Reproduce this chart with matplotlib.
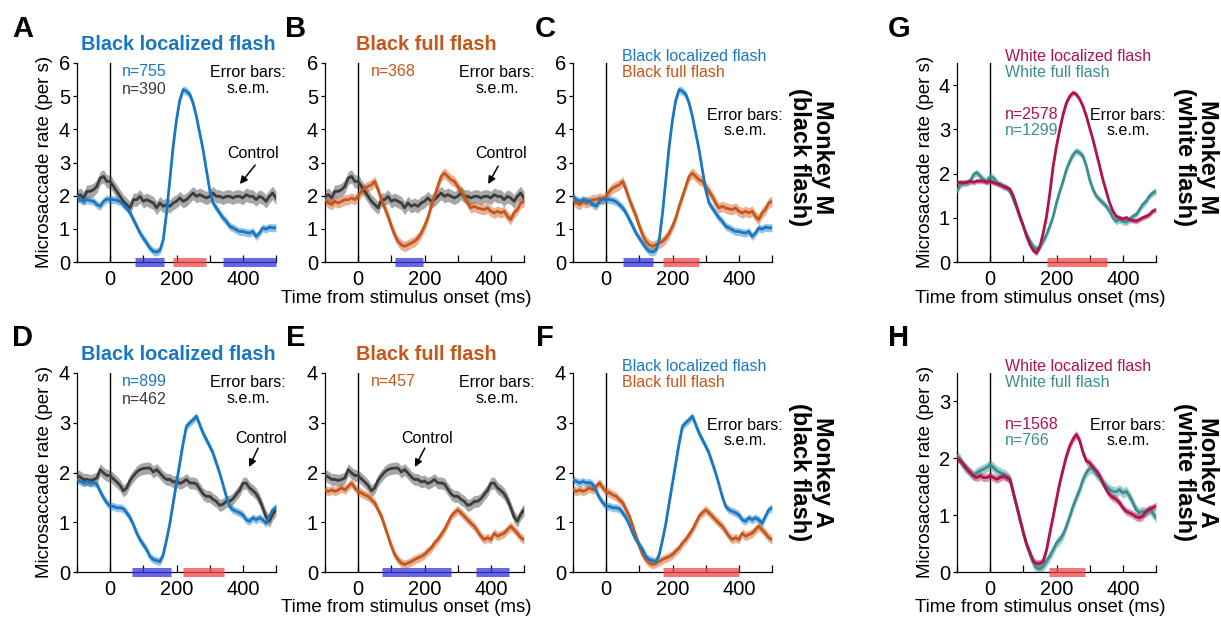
import matplotlib
matplotlib.use("Agg")
import matplotlib.pyplot as plt
import numpy as np

plt.rcParams['font.family'] = ['Liberation Sans', 'DejaVu Sans']

W, H = 1221, 620

# time axis (ms), sampled every 10 ms
t = np.arange(-100, 501, 10)

# Monkey M, black flash
m_black_loc = [1.98, 1.88, 1.83, 1.88, 1.85, 1.83, 1.73, 1.68, 1.83, 1.90, 1.88,
               1.88, 1.86, 1.82, 1.73, 1.63, 1.48, 1.28, 1.08, 0.87, 0.72,
               0.57, 0.42, 0.32, 0.30, 0.35, 0.67, 1.48, 2.48, 3.49, 4.29,
               4.89, 5.20, 5.15, 5.05, 4.79, 4.39, 3.89, 3.39, 2.78, 2.18,
               1.78, 1.63, 1.48, 1.33, 1.23, 1.08, 1.03, 0.97, 0.92, 0.92,
               0.89, 0.87, 0.92, 0.77, 0.87, 1.03, 0.99, 1.05, 1.03, 1.03]
m_black_full = [1.88, 1.78, 1.73, 1.83, 1.78, 1.83, 1.88, 1.88, 1.93, 1.88, 1.98,
                2.13, 2.23, 2.28, 2.33, 2.43, 2.18, 1.88, 1.63, 1.38, 1.08,
                0.82, 0.62, 0.52, 0.47, 0.52, 0.57, 0.62, 0.72, 0.87, 1.08,
                1.33, 1.68, 1.98, 2.28, 2.58, 2.68, 2.58, 2.48, 2.43, 2.28,
                2.13, 1.98, 1.78, 1.63, 1.68, 1.63, 1.60, 1.58, 1.63, 1.53,
                1.48, 1.53, 1.48, 1.53, 1.38, 1.28, 1.48, 1.58, 1.78, 1.83]
m_ctrl = [1.98, 2.03, 1.93, 2.13, 2.13, 2.18, 2.28, 2.53, 2.58, 2.43, 2.43,
          2.28, 2.13, 1.98, 1.83, 1.73, 1.63, 1.88, 1.88, 1.98, 1.83,
          1.88, 1.83, 1.78, 1.63, 1.78, 1.68, 1.73, 1.68, 1.78, 1.83,
          1.93, 1.83, 1.88, 1.98, 2.08, 1.98, 2.03, 1.98, 1.93, 1.98,
          2.08, 1.98, 1.98, 1.93, 1.98, 1.98, 1.93, 1.98, 1.98, 1.93,
          2.03, 1.98, 1.98, 1.88, 1.98, 1.93, 1.83, 1.98, 2.08, 1.93]

# Monkey A, black flash
a_black_loc = [1.86, 1.82, 1.79, 1.82, 1.79, 1.80, 1.76, 1.62, 1.49, 1.39, 1.32,
               1.32, 1.29, 1.29, 1.27, 1.19, 1.09, 0.95, 0.78, 0.65, 0.55,
               0.45, 0.31, 0.25, 0.23, 0.21, 0.35, 0.65, 0.98, 1.39, 1.79,
               2.19, 2.59, 2.93, 3.00, 3.06, 3.13, 2.96, 2.79, 2.66, 2.53,
               2.39, 2.19, 1.99, 1.76, 1.52, 1.32, 1.25, 1.22, 1.19, 1.15,
               1.05, 1.02, 1.09, 1.05, 1.09, 1.05, 0.98, 1.12, 1.25, 1.29]
a_black_full = [1.65, 1.62, 1.65, 1.62, 1.65, 1.69, 1.65, 1.72, 1.79, 1.69, 1.62,
                1.59, 1.55, 1.52, 1.45, 1.39, 1.25, 1.12, 0.92, 0.72, 0.52,
                0.35, 0.25, 0.18, 0.15, 0.18, 0.21, 0.25, 0.28, 0.31, 0.35,
                0.42, 0.48, 0.58, 0.65, 0.75, 0.85, 0.98, 1.12, 1.19, 1.25,
                1.19, 1.12, 1.05, 0.98, 0.92, 0.82, 0.72, 0.65, 0.69, 0.65,
                0.78, 0.72, 0.75, 0.78, 0.85, 0.92, 0.85, 0.78, 0.69, 0.65]
a_ctrl = [1.94, 1.91, 1.86, 1.86, 1.84, 1.86, 1.89, 2.06, 1.99, 1.94, 1.94,
          1.87, 1.81, 1.74, 1.63, 1.69, 1.84, 1.93, 2.01, 2.06, 2.08,
          2.09, 2.09, 2.01, 2.06, 1.99, 1.91, 1.86, 1.86, 1.81, 1.83,
          1.78, 1.81, 1.86, 1.79, 1.79, 1.77, 1.67, 1.57, 1.52, 1.52,
          1.46, 1.42, 1.34, 1.36, 1.42, 1.42, 1.47, 1.56, 1.64, 1.78,
          1.79, 1.69, 1.64, 1.57, 1.46, 1.29, 1.11, 1.02, 1.16, 1.25]

# white flash
m_white_loc = [1.79, 1.80, 1.79, 1.80, 1.83, 1.80, 1.83, 1.83, 1.83, 1.80, 1.83,
               1.79, 1.77, 1.75, 1.71, 1.68, 1.64, 1.49, 1.26, 1.03, 0.81,
               0.58, 0.39, 0.26, 0.20, 0.35, 0.66, 1.03, 1.56, 2.17, 2.62,
               3.00, 3.34, 3.60, 3.75, 3.83, 3.79, 3.68, 3.52, 3.30, 3.03,
               2.77, 2.47, 2.17, 1.86, 1.60, 1.34, 1.15, 1.03, 1.00, 0.97,
               1.00, 0.96, 0.94, 0.92, 0.96, 1.00, 1.03, 1.07, 1.15, 1.18]
m_white_full = [1.60, 1.75, 1.79, 1.79, 1.83, 1.98, 2.02, 1.94, 1.86, 1.83, 1.94,
                1.90, 1.80, 1.75, 1.71, 1.68, 1.60, 1.41, 1.22, 1.00, 0.81,
                0.62, 0.47, 0.35, 0.29, 0.35, 0.47, 0.62, 0.81, 1.03, 1.34,
                1.60, 1.83, 2.09, 2.28, 2.43, 2.51, 2.47, 2.39, 2.17, 1.86,
                1.64, 1.49, 1.41, 1.34, 1.26, 1.15, 1.00, 0.92, 0.96, 0.92,
                0.90, 0.96, 1.03, 1.07, 1.18, 1.30, 1.37, 1.49, 1.56, 1.60]
a_white_loc = [2.01, 1.95, 1.89, 1.81, 1.75, 1.69, 1.66, 1.69, 1.66, 1.66, 1.69,
               1.66, 1.63, 1.66, 1.69, 1.66, 1.63, 1.39, 1.16, 0.92, 0.69,
               0.48, 0.34, 0.19, 0.15, 0.15, 0.19, 0.39, 0.69, 0.98, 1.28,
               1.57, 1.81, 2.04, 2.22, 2.34, 2.42, 2.31, 2.10, 1.95, 1.92,
               1.84, 1.78, 1.69, 1.57, 1.45, 1.36, 1.31, 1.28, 1.22, 1.13,
               1.07, 1.04, 1.01, 0.97, 0.95, 0.98, 1.07, 1.10, 1.13, 1.16]
a_white_full = [2.04, 1.98, 1.86, 1.81, 1.75, 1.69, 1.75, 1.78, 1.81, 1.84, 1.89,
                1.84, 1.78, 1.75, 1.72, 1.69, 1.63, 1.39, 1.16, 0.92, 0.69,
                0.48, 0.31, 0.16, 0.07, 0.05, 0.10, 0.19, 0.28, 0.39, 0.51,
                0.57, 0.66, 0.81, 0.98, 1.16, 1.31, 1.45, 1.63, 1.75, 1.82,
                1.81, 1.72, 1.66, 1.57, 1.51, 1.45, 1.42, 1.41, 1.45, 1.39,
                1.42, 1.34, 1.22, 1.10, 1.04, 1.07, 1.04, 1.10, 1.04, 0.95]

# s.e.m. half widths
sem = {'m_black_loc': 0.12, 'm_black_full': 0.16, 'm_ctrl': 0.2,
       'a_black_loc': 0.08, 'a_black_full': 0.09, 'a_ctrl': 0.12,
       'm_white_loc': 0.06, 'm_white_full': 0.08,
       'a_white_loc': 0.07, 'a_white_full': 0.09}

BLUE = '#1a78c2'
ORANGE = '#c6561a'
GRAY = '#3c3c3c'
CRIMSON = '#b0124e'
TEAL = '#3a8f90'
SIG_BLUE = '#3535e0'
SIG_RED = '#f04a4a'

# significance epochs (ms)
bars = {
    'A': [(75, 162, SIG_BLUE), (190, 289, SIG_RED), (340, 500, SIG_BLUE)],
    'B': [(111, 195, SIG_BLUE)],
    'C': [(51, 141, SIG_BLUE), (171, 280, SIG_RED)],
    'G': [(171, 352, SIG_RED)],
    'D': [(66, 183, SIG_BLUE), (220, 343, SIG_RED)],
    'E': [(72, 280, SIG_BLUE), (355, 455, SIG_BLUE)],
    'F': [(171, 400, SIG_RED)],
    'H': [(177, 286, SIG_RED)],
}

# "Control" label: text position, arrow start, arrow tip (data units)
control_notes = {
    'A': ((430, 3.28), (437, 2.92), (391, 2.35)),
    'B': ((430, 3.28), (422, 2.89), (392, 2.35)),
    'D': ((455, 2.69), (446, 2.49), (419, 2.11)),
    'E': ((207, 2.69), (201, 2.49), (171, 2.11)),
}

fig = plt.figure(figsize=(W / 100, H / 100), dpi=100)


def make_ax(left, right, top, bottom, ymax, yticks):
    ax = fig.add_axes([left / W, 1 - bottom / H, (right - left) / W, (bottom - top) / H])
    ax.set_xlim(-100, 500)
    ax.set_ylim(0, ymax)
    ax.spines['top'].set_visible(False)
    ax.spines['right'].set_visible(False)
    ax.spines['left'].set_linewidth(0.9)
    ax.spines['bottom'].set_linewidth(0.9)
    ax.set_xticks([-100, 0, 100, 200, 300, 400, 500])
    ax.set_xticklabels(['', '0', '', '200', '', '400', ''])
    ax.set_yticks(yticks)
    ax.set_yticklabels([str(v) for v in yticks])
    ax.tick_params(axis='x', direction='in', length=5, width=0.9, labelsize=14.5, pad=6)
    ax.tick_params(axis='y', direction='out', length=3, width=0.9, labelsize=14.5, pad=2)
    ax.axvline(0, color='black', lw=1.0, zorder=1)
    return ax


def trace(ax, vals, key, color):
    v = np.array(vals)
    s = sem[key]
    ax.fill_between(t, v - s, v + s, color=color, alpha=0.45, lw=0, zorder=2)
    ax.plot(t, v, color=color, lw=2.0, zorder=3)


def sig(ax, name):
    for a, b, c in bars[name]:
        ax.plot([a, b], [0, 0], color=c, lw=6.5, alpha=0.75,
                solid_capstyle='butt', clip_on=False, zorder=4)


def err_note(ax, x, y):
    ax.text(x, y, 'Error bars:\ns.e.m.', transform=ax.transAxes, ha='center',
            va='top', fontsize=11.5, linespacing=1.05, color='black')


def control(ax, name):
    (tx, ty), start, tip = control_notes[name]
    ax.text(tx, ty, 'Control', ha='center', va='center', fontsize=11.5)
    ax.annotate('', xy=tip, xytext=start,
                arrowprops=dict(arrowstyle='-|>', color='black', lw=1.1,
                                mutation_scale=11, shrinkA=0, shrinkB=0))


cols = {'A': (77, 276), 'B': (325, 524), 'C': (573, 772), 'G': (957, 1156)}
cols.update({'D': cols['A'], 'E': cols['B'], 'F': cols['C'], 'H': cols['G']})
top_row, bot_row = (63, 262), (373, 572)

axA = make_ax(*cols['A'], *top_row, 6, range(7))
axB = make_ax(*cols['B'], *top_row, 6, range(7))
axC = make_ax(*cols['C'], *top_row, 6, range(7))
axG = make_ax(*cols['G'], *top_row, 4.5, range(5))
axD = make_ax(*cols['D'], *bot_row, 4, range(5))
axE = make_ax(*cols['E'], *bot_row, 4, range(5))
axF = make_ax(*cols['F'], *bot_row, 4, range(5))
axH = make_ax(*cols['H'], *bot_row, 3.5, range(4))

TITLE = dict(ha='center', va='center', fontsize=14.3, fontweight='bold')

# A
trace(axA, m_ctrl, 'm_ctrl', GRAY)
trace(axA, m_black_loc, 'm_black_loc', BLUE)
sig(axA, 'A')
axA.text(0.51, 1.095, 'Black localized flash', transform=axA.transAxes, color=BLUE, **TITLE)
axA.text(0.226, 0.955, 'n=755', transform=axA.transAxes, va='center', fontsize=11.5, color=BLUE)
axA.text(0.226, 0.868, 'n=390', transform=axA.transAxes, va='center', fontsize=11.5, color=GRAY)
err_note(axA, 0.86, 0.99)
control(axA, 'A')

# B
trace(axB, m_ctrl, 'm_ctrl', GRAY)
trace(axB, m_black_full, 'm_black_full', ORANGE)
sig(axB, 'B')
axB.text(0.51, 1.095, 'Black full flash', transform=axB.transAxes, color=ORANGE, **TITLE)
axB.text(0.23, 0.955, 'n=368', transform=axB.transAxes, va='center', fontsize=11.5, color=ORANGE)
err_note(axB, 0.865, 0.99)
control(axB, 'B')

# C
trace(axC, m_black_full, 'm_black_full', ORANGE)
trace(axC, m_black_loc, 'm_black_loc', BLUE)
sig(axC, 'C')
axC.text(0.246, 1.035, 'Black localized flash', transform=axC.transAxes, va='center',
         fontsize=11.5, color=BLUE)
axC.text(0.246, 0.95, 'Black full flash', transform=axC.transAxes, va='center',
         fontsize=11.5, color=ORANGE)
err_note(axC, 0.865, 0.775)

# G
trace(axG, m_white_full, 'm_white_full', TEAL)
trace(axG, m_white_loc, 'm_white_loc', CRIMSON)
sig(axG, 'G')
axG.text(0.241, 1.035, 'White localized flash', transform=axG.transAxes, va='center',
         fontsize=11.5, color=CRIMSON)
axG.text(0.241, 0.95, 'White full flash', transform=axG.transAxes, va='center',
         fontsize=11.5, color=TEAL)
axG.text(0.241, 0.739, 'n=2578', transform=axG.transAxes, va='center', fontsize=11.5, color=CRIMSON)
axG.text(0.241, 0.663, 'n=1299', transform=axG.transAxes, va='center', fontsize=11.5, color=TEAL)
err_note(axG, 0.86, 0.775)

# D
trace(axD, a_ctrl, 'a_ctrl', GRAY)
trace(axD, a_black_loc, 'a_black_loc', BLUE)
sig(axD, 'D')
axD.text(0.51, 1.095, 'Black localized flash', transform=axD.transAxes, color=BLUE, **TITLE)
axD.text(0.226, 0.955, 'n=899', transform=axD.transAxes, va='center', fontsize=11.5, color=BLUE)
axD.text(0.226, 0.868, 'n=462', transform=axD.transAxes, va='center', fontsize=11.5, color=GRAY)
err_note(axD, 0.86, 0.99)
control(axD, 'D')

# E
trace(axE, a_ctrl, 'a_ctrl', GRAY)
trace(axE, a_black_full, 'a_black_full', ORANGE)
sig(axE, 'E')
axE.text(0.51, 1.095, 'Black full flash', transform=axE.transAxes, color=ORANGE, **TITLE)
axE.text(0.23, 0.955, 'n=457', transform=axE.transAxes, va='center', fontsize=11.5, color=ORANGE)
err_note(axE, 0.865, 0.99)
control(axE, 'E')

# F
trace(axF, a_black_full, 'a_black_full', ORANGE)
trace(axF, a_black_loc, 'a_black_loc', BLUE)
sig(axF, 'F')
axF.text(0.246, 1.035, 'Black localized flash', transform=axF.transAxes, va='center',
         fontsize=11.5, color=BLUE)
axF.text(0.246, 0.95, 'Black full flash', transform=axF.transAxes, va='center',
         fontsize=11.5, color=ORANGE)
err_note(axF, 0.865, 0.775)

# H
trace(axH, a_white_full, 'a_white_full', TEAL)
trace(axH, a_white_loc, 'a_white_loc', CRIMSON)
sig(axH, 'H')
axH.text(0.241, 1.035, 'White localized flash', transform=axH.transAxes, va='center',
         fontsize=11.5, color=CRIMSON)
axH.text(0.241, 0.95, 'White full flash', transform=axH.transAxes, va='center',
         fontsize=11.5, color=TEAL)
axH.text(0.241, 0.739, 'n=1568', transform=axH.transAxes, va='center', fontsize=11.5, color=CRIMSON)
axH.text(0.241, 0.663, 'n=766', transform=axH.transAxes, va='center', fontsize=11.5, color=TEAL)
err_note(axH, 0.86, 0.775)


def ftext(x, y, s, **kw):
    fig.text(x / W, 1 - y / H, s, **kw)


# panel letters
for name, (x, y) in {'A': (23, 29), 'B': (296, 29), 'C': (545, 29), 'G': (899, 29),
                     'D': (23, 338), 'E': (296, 338), 'F': (545, 338), 'H': (899, 338)}.items():
    ftext(x, y, name, ha='center', va='center', fontsize=21, fontweight='bold')

# axis labels
for x, y in [(45, 162), (925, 162), (45, 472), (925, 472)]:
    ftext(x, y, 'Microsaccade rate (per s)', ha='center', va='center', rotation=90, fontsize=13.5)
for x, y in [(406, 298), (1040, 298), (406, 608), (1040, 608)]:
    ftext(x, y, 'Time from stimulus onset (ms)', ha='center', va='center', fontsize=13.5)

# row labels
ROW = dict(ha='center', va='center', rotation=270, fontsize=17, fontweight='bold',
           linespacing=1.0, multialignment='center')
ftext(811, 157, 'Monkey M\n(black flash)', **ROW)
ftext(1196, 157, 'Monkey M\n(white flash)', **ROW)
ftext(811, 472, 'Monkey A\n(black flash)', **ROW)
ftext(1196, 472, 'Monkey A\n(white flash)', **ROW)

fig.savefig('out.png', dpi=100)
